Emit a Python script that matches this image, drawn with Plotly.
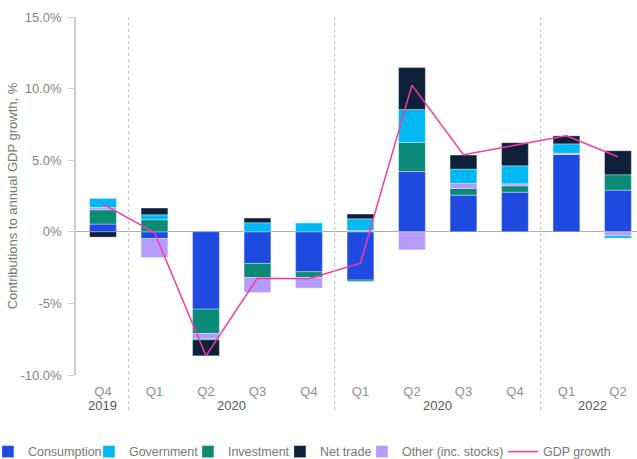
import plotly.graph_objects as go

quarters = ["Q4", "Q1", "Q2", "Q3", "Q4", "Q1", "Q2", "Q3", "Q4", "Q1", "Q2"]
years = ["2019", "2020", "2020", "2022"]
year_pos = [0, 2.5, 6.5, 9.5]
divider_pos = [0.5, 4.5, 8.5]

consumption = [0.54, -0.47, -5.40, -2.21, -2.79, -3.37, 4.21, 2.56, 2.77, 5.40, 2.91]
investment = [1.00, 0.84, -1.70, -0.98, -0.40, -0.10, 2.03, 0.47, 0.44, 0.00, 1.07]
other = [0.16, -1.33, -0.35, -1.05, -0.74, 0.09, -1.26, 0.35, 0.14, 0.09, -0.28]
government = [0.63, 0.35, -0.09, 0.63, 0.63, 0.82, 2.30, 1.00, 1.26, 0.65, -0.16]
net_trade = [-0.37, 0.47, -1.12, 0.33, 0.00, 0.33, 2.93, 0.98, 1.61, 0.56, 1.68]
gdp_growth = [1.93, -0.05, -8.66, -3.24, -3.28, -2.19, 10.24, 5.38, 6.04, 6.70, 5.24]

y_tickvals = [15, 10, 5, 0, -5, -10]
y_ticktext = ["15.0%", "10.0%", "5.0%", "0%", "-5%", "-10.0%"]

x = list(range(len(quarters)))
FONT = "Liberation Sans"

fig = go.Figure()
bar_specs = [
    ("Consumption", consumption, "#1f4ae0", 1, 56),
    ("Investment", investment, "#0b8a78", 3, 47),
    ("Other (inc. stocks)", other, "#b59cfb", 5, 96),
    ("Government", government, "#00b9f4", 2, 54),
    ("Net trade", net_trade, "#0d213b", 4, 37),
]
for name, vals, color, rank, lw in bar_specs:
    fig.add_trace(go.Bar(
        x=x, y=vals, name=name, marker_color=color,
        marker_line=dict(color="rgba(255,255,255,0.55)", width=0.6),
        legendrank=rank, legendwidth=lw,
    ))
fig.add_trace(go.Scatter(
    x=x, y=gdp_growth, name="GDP growth", mode="lines",
    line=dict(color="#f73a9e", width=1.5), legendrank=6, legendwidth=75,
))

shapes = []
for d in divider_pos:
    shapes.append(dict(type="line", xref="x", yref="paper", x0=d, x1=d, y0=1, y1=-0.098,
                       line=dict(color="#bdbdbd", width=1, dash="dot")))

annotations = []
for yr, p in zip(years, year_pos):
    annotations.append(dict(x=p, y=0, xref="x", yref="paper", text=yr, showarrow=False,
                            yanchor="middle", yshift=-30,
                            font=dict(family=FONT, size=13, color="#5a5a5a")))

fig.update_layout(
    width=637, height=459,
    margin=dict(l=76, r=0, t=17, b=84, autoexpand=False),
    barmode="relative", bargap=0.48,
    plot_bgcolor="white", paper_bgcolor="white",
    font=dict(family=FONT, size=13, color="#888888"),
    shapes=shapes, annotations=annotations,
    legend=dict(orientation="h", x=-0.157, xanchor="left", y=-0.215, yanchor="middle",
                font=dict(family=FONT, size=12.5, color="#777777"),
                traceorder="normal"),
    xaxis=dict(range=[-0.524, 10.37], tickvals=x, ticktext=quarters,
               ticks="outside", ticklen=4, tickcolor="rgba(0,0,0,0)",
               showgrid=False, zeroline=False, showline=False,
               tickfont=dict(family=FONT, size=13, color="#8f8f8f")),
    yaxis=dict(range=[-10, 15], tickvals=y_tickvals, ticktext=y_ticktext,
               ticks="outside", ticklen=6, tickcolor="#cccccc", ticklabelstandoff=4,
               showline=True, linecolor="#cccccc", linewidth=1.5,
               showgrid=False, zeroline=True, zerolinecolor="#b0b0b0", zerolinewidth=1.2,
               tickfont=dict(family=FONT, size=13, color="#858585"),
               title=dict(text="Contributions to annual GDP growth, %", standoff=0,
                          font=dict(family=FONT, size=13, color="#777777"))),
)

fig.write_html("out.html", config={"displayModeBar": False},
               post_script="document.body.style.margin='0';")
